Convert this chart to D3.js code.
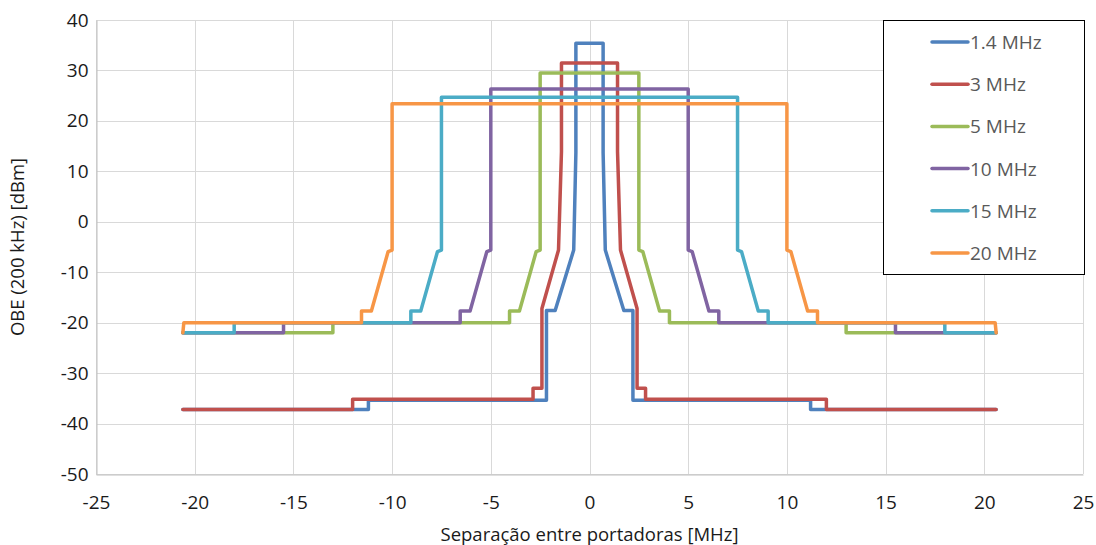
<!DOCTYPE html>
<html>
<head>
<meta charset="utf-8">
<script src="https://cdn.jsdelivr.net/npm/d3@7"></script>
<style>
  body { margin: 0; background: #fff; }
  text { font-family: "Open Sans", sans-serif; }
</style>
</head>
<body>
<div id="chart"></div>
<script>
// series names and colours (legend order = draw order)
var seriesNames = ["1.4 MHz", "3 MHz", "5 MHz", "10 MHz", "15 MHz", "20 MHz"];
var seriesColors = ["#4F81BD", "#C0504D", "#9BBB59", "#8064A2", "#4BACC6", "#F79646"];

// points: [separation MHz, OBE dBm]
var mask1_4 = [[-20.6,-37.2],[-11.2,-37.2],[-11.2,-35.4],[-2.18,-35.4],[-2.18,-17.6],[-1.74,-17.6],[-0.8,-5.6],[-0.69,13.7],[-0.69,35.4],
               [0.69,35.4],[0.69,13.7],[0.8,-5.6],[1.74,-17.6],[2.2,-17.6],[2.2,-35.4],[11.2,-35.4],[11.2,-37.2],[20.6,-37.2]];
var mask3 = [[-20.6,-37.2],[-12,-37.2],[-12,-35.2],[-2.86,-35.2],[-2.86,-33],[-2.41,-33],[-2.41,-17.2],[-1.57,-5.6],[-1.42,13.9],[-1.42,31.5],
             [1.42,31.5],[1.42,13.9],[1.57,-5.6],[2.41,-17.2],[2.41,-33],[2.84,-33],[2.84,-35.2],[12,-35.2],[12,-37.2],[20.6,-37.2]];
var mask5 = [[-20.6,-22],[-13,-22],[-13,-20],[-4.05,-20],[-4.05,-17.7],[-3.55,-17.7],[-2.7,-5.9],[-2.5,-5.6],[-2.5,29.5],
             [2.5,29.5],[2.5,-5.6],[2.7,-5.9],[3.55,-17.7],[4.05,-17.7],[4.05,-20],[13,-20],[13,-22],[20.6,-22]];
var mask10 = [[-20.6,-22],[-15.5,-22],[-15.5,-20],[-6.55,-20],[-6.55,-17.7],[-6.05,-17.7],[-5.2,-5.9],[-5,-5.6],[-5,26.3],
              [5,26.3],[5,-5.6],[5.2,-5.9],[6.05,-17.7],[6.55,-17.7],[6.55,-20],[15.5,-20],[15.5,-22],[20.6,-22]];
var mask15 = [[-20.6,-22],[-18,-22],[-18,-20],[-9.05,-20],[-9.05,-17.7],[-8.55,-17.7],[-7.7,-5.9],[-7.5,-5.6],[-7.5,24.7],
              [7.5,24.7],[7.5,-5.6],[7.7,-5.9],[8.55,-17.7],[9.05,-17.7],[9.05,-20],[18,-20],[18,-22],[20.6,-22]];
var mask20 = [[-20.6,-22],[-20.55,-20],[-11.55,-20],[-11.55,-17.7],[-11.05,-17.7],[-10.2,-5.9],[-10,-5.6],[-10,23.4],
              [10,23.4],[10,-5.6],[10.2,-5.9],[11.05,-17.7],[11.55,-17.7],[11.55,-20],[20.55,-20],[20.6,-22]];

var xTicks = [-25, -20, -15, -10, -5, 0, 5, 10, 15, 20, 25];
var yTicks = [40, 30, 20, 10, 0, -10, -20, -30, -40, -50];

var allSeries = [mask1_4, mask3, mask5, mask10, mask15, mask20];

// set the dimensions and margins of the graph
var margin = {top: 20, right: 13, bottom: 71, left: 96},
    width = 1096 - margin.left - margin.right,
    height = 545 - margin.top - margin.bottom;

var svg = d3.select("#chart")
  .append("svg")
    .attr("width", 1096)
    .attr("height", 545)
  .append("g")
    .attr("transform", "translate(" + margin.left + "," + margin.top + ")");

var x = d3.scaleLinear().domain([-25, 25]).range([0, width]);
var y = d3.scaleLinear().domain([-50, 40]).range([height, 0]);

// gridlines
svg.append("g")
  .selectAll("line")
  .data(yTicks)
  .enter()
  .append("line")
    .attr("x1", 0).attr("x2", width)
    .attr("y1", function(d) { return Math.round(y(d)) + 0.5; })
    .attr("y2", function(d) { return Math.round(y(d)) + 0.5; })
    .attr("stroke", "#D9D9D9");

svg.append("g")
  .selectAll("line")
  .data(xTicks)
  .enter()
  .append("line")
    .attr("y1", 0).attr("y2", height)
    .attr("x1", function(d) { return Math.round(x(d)) + 0.5; })
    .attr("x2", function(d) { return Math.round(x(d)) + 0.5; })
    .attr("stroke", "#D9D9D9");

// axes (plain hyphen for negatives, like the original)
var fmt = function(d) { return String(d); };
var xAxis = svg.append("g")
  .attr("transform", "translate(0," + (Math.round(height) + 0.5) + ")")
  .call(d3.axisBottom(x).tickValues(xTicks).tickSize(0).tickPadding(21).tickFormat(fmt));
var yAxis = svg.append("g")
  .attr("transform", "translate(0.5,0)")
  .call(d3.axisLeft(y).tickValues(yTicks).tickSize(0).tickPadding(8).tickFormat(fmt));

[xAxis, yAxis].forEach(function(a) {
  a.select(".domain").attr("stroke", "#BFBFBF");
  a.selectAll("text")
    .attr("font-size", "19px")
    .attr("fill", "#1a1a1a")
    .style("font-family", "'Open Sans', sans-serif");
});

// axis labels
svg.append("text")
  .attr("x", x(0))
  .attr("y", height + 67)
  .attr("text-anchor", "middle")
  .attr("font-size", "18.5px")
  .attr("fill", "#1a1a1a")
  .text("Separação entre portadoras [MHz]");

svg.append("text")
  .attr("transform", "rotate(-90)")
  .attr("x", -height / 2)
  .attr("y", -72)
  .attr("text-anchor", "middle")
  .attr("font-size", "18.5px")
  .attr("fill", "#1a1a1a")
  .text("OBE (200 kHz) [dBm]");

// the lines
var line = d3.line()
  .x(function(d) { return x(d[0]); })
  .y(function(d) { return y(d[1]); });

svg.append("g")
  .selectAll("path")
  .data(allSeries)
  .enter()
  .append("path")
    .attr("d", line)
    .attr("fill", "none")
    .attr("stroke", function(d, i) { return seriesColors[i]; })
    .attr("stroke-width", 3.5)
    .attr("stroke-linejoin", "round")
    .attr("stroke-linecap", "round");

// legend
var legend = svg.append("g")
  .attr("transform", "translate(" + (883 - margin.left) + "," + 0 + ")");

legend.append("rect")
  .attr("x", 0.5).attr("y", 0.5)
  .attr("width", 201).attr("height", 254)
  .attr("fill", "#fff")
  .attr("stroke", "#000");

var items = legend.selectAll(".item")
  .data(seriesNames)
  .enter()
  .append("g")
    .attr("class", "item")
    .attr("transform", function(d, i) { return "translate(0," + (22 + i * 42.2) + ")"; });

items.append("line")
  .attr("x1", 49).attr("x2", 85)
  .attr("stroke", function(d, i) { return seriesColors[i]; })
  .attr("stroke-width", 3.5)
  .attr("stroke-linecap", "round");

items.append("text")
  .attr("x", 87)
  .attr("y", 7)
  .attr("font-size", "19px")
  .attr("fill", "#595959")
  .text(function(d) { return d; });
</script>
</body>
</html>
